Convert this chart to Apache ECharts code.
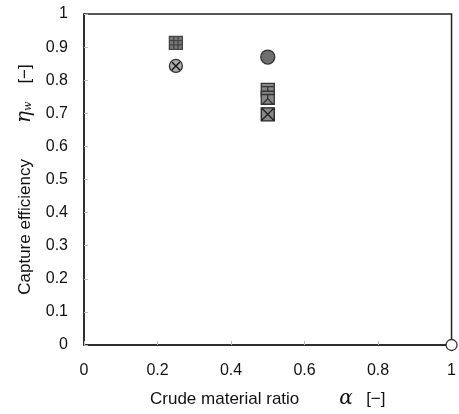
<!DOCTYPE html>
<html>
<head>
<meta charset="utf-8">
<script src="https://cdn.jsdelivr.net/npm/echarts@6/dist/echarts.min.js"></script>
<style>
html,body{margin:0;padding:0;background:#fff;}
#chart{width:459px;height:414px;}
</style>
</head>
<body>
<div id="chart"></div>
<script>
// data (alpha, eta_w)
var hatchSquare = [[0.25, 0.913]];
var crossCircle = [[0.25, 0.843]];
var filledCircle = [[0.5, 0.87]];
var starSquare = [[0.5, 0.771], [0.5, 0.747]];
var crossSquare = [[0.5, 0.697]];
var openCircle = [[1, 0]];
var xTicks = [0, 0.2, 0.4, 0.6, 0.8, 1];
var yTicks = [0, 0.1, 0.2, 0.3, 0.4, 0.5, 0.6, 0.7, 0.8, 0.9, 1];

var font = '"Liberation Sans", Arial, sans-serif';

var chart = echarts.init(document.getElementById('chart'));

function sc(data, symbol, size, fill, stroke, z) {
    return {
        type: 'scatter',
        data: data,
        symbol: symbol,
        symbolSize: size,
        z: z || 3,
        itemStyle: { color: fill, borderColor: stroke, borderWidth: 1.3, opacity: 1 }
    };
}

chart.setOption({
    animation: false,
    grid: { left: 84, right: 5, top: 14, bottom: 68, show: true, borderColor: '#222', borderWidth: 1.5 },
    xAxis: {
        type: 'value', min: 0, max: 1, interval: 0.2,
        axisLine: { lineStyle: { color: '#222', width: 1.5 } },
        axisTick: { inside: true, length: 4, lineStyle: { color: '#bbb' } },
        splitLine: { show: false },
        axisLabel: {
            margin: 18, color: '#111', fontSize: 16, fontFamily: font,
            formatter: function (v) { return xTicks.indexOf(+v.toFixed(1)) >= 0 ? String(+v.toFixed(1)) : ''; }
        },
        name: '{t|Crude material ratio}{sp|}{g|α}    {t|[−]}',
        nameLocation: 'middle', nameGap: 44,
        nameTextStyle: {
            rich: {
                t: { fontSize: 17, fontFamily: font, color: '#111' },
                sp: { width: 40 },
                g: { fontSize: 20, fontFamily: 'DejaVu Serif, serif', fontStyle: 'italic', color: '#111' }
            }
        }
    },
    yAxis: {
        type: 'value', min: 0, max: 1, interval: 0.1,
        axisLine: { lineStyle: { color: '#222', width: 1.5 } },
        axisTick: { inside: true, length: 4, lineStyle: { color: '#bbb' } },
        splitLine: { show: false },
        axisLabel: {
            margin: 16, color: '#111', fontSize: 16, fontFamily: font,
            formatter: function (v) { return yTicks.indexOf(+v.toFixed(1)) >= 0 ? String(+v.toFixed(1)) : ''; }
        },
        name: '{t|Capture efficiency}{sp|}{g|η}{s|w}{sp2|}{t|[−]}',
        nameLocation: 'middle', nameGap: 48, nameRotate: 90,
        nameTextStyle: {
            rich: {
                t: { fontSize: 17, fontFamily: font, color: '#111' },
                sp: { width: 36 },
                sp2: { width: 18 },
                g: { fontSize: 20, fontFamily: 'DejaVu Serif, serif', fontStyle: 'italic', color: '#111' },
                s: { fontSize: 11, fontFamily: 'DejaVu Serif, serif', fontStyle: 'italic', color: '#111', padding: [7, 0, 0, 0] }
            }
        }
    },
    series: [
        sc(hatchSquare, 'path://M0,0H12V12H0ZM0,4H12M0,8H12M4,0V12M8,0V12', 13, '#777', '#444'),
        sc(crossCircle, 'circle', 13, '#aaa', '#333'),
        sc(crossCircle, 'path://M0,0L10,10M10,0L0,10', 8, 'none', '#111', 4),
        sc(filledCircle, 'circle', 14, '#6f6f6f', '#333'),
        sc(starSquare, 'path://M0,0H12V12H0ZM0,3H12M6,3V7M6,7L1,12M6,7L11,12', 13, '#888', '#333'),
        sc(crossSquare, 'path://M0,0H12V12H0ZM0,0L12,12M12,0L0,12', 13, '#888', '#222'),
        sc(openCircle, 'circle', 11, '#fff', '#333', 5)
    ]
});
</script>
</body>
</html>
